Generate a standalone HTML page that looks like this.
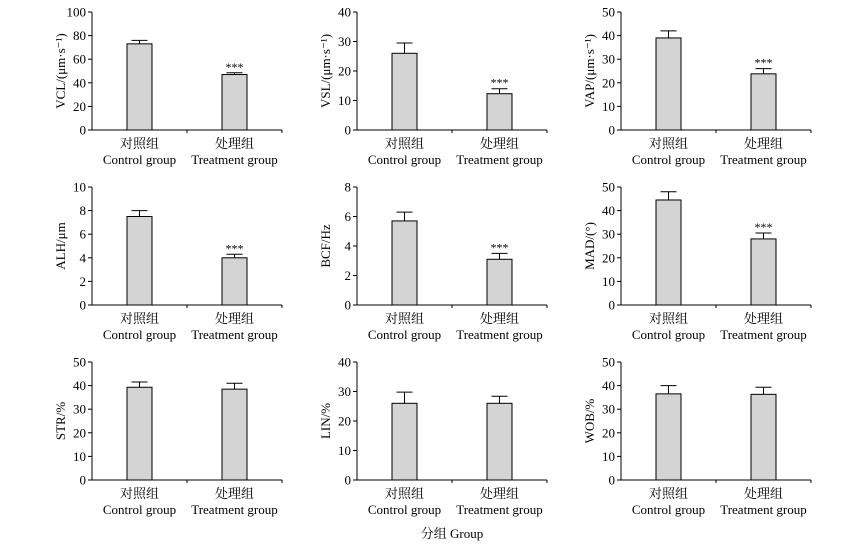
<!DOCTYPE html>
<html><head><meta charset="utf-8"><style>
body{margin:0;background:#fff;}
svg{display:block;font-family:"Liberation Serif","Noto Serif CJK SC",serif;}
</style></head><body>
<svg id="c" width="865" height="545"></svg>
<script>
const categoriesCN = ["对照组","处理组"];
const categoriesEN = ["Control group","Treatment group"];
const panelTitles = ["VCL/(μm·s⁻¹)","VSL/(μm·s⁻¹)","VAP/(μm·s⁻¹)","ALH/μm","BCF/Hz","MAD/(°)","STR/%","LIN/%","WOB/%"];
const meanValues = [[73,47],[26,12.3],[39,23.8],[7.5,4.0],[5.7,3.1],[44.5,28],[39.3,38.5],[26,26],[36.5,36.3]];
const errorValues = [[3,1.5],[3.5,1.7],[3,2.2],[0.5,0.3],[0.6,0.4],[3.5,2.5],[2.2,2.5],[3.8,2.4],[3.5,3]];
const axisMax = [100,40,50,10,8,50,50,40,50];
const tickStep = [20,10,10,2,2,10,10,10,10];
const significance = [["","***"],["","***"],["","***"],["","***"],["","***"],["","***"],["",""],["",""],["",""]];

const NS="http://www.w3.org/2000/svg";
const svg=document.getElementById('c');
function mk(tag,attrs,parent){const e=document.createElementNS(NS,tag);for(const k in attrs)e.setAttribute(k,attrs[k]);(parent||svg).appendChild(e);return e;}
const colX=[92,357,621], rowTop=[12,187,362], W=190, H=118, barW=25;
for(let p=0;p<9;p++){
  const x0=colX[p%3], y0=rowTop[Math.floor(p/3)], yb=y0+H;
  const g=mk('g',{});
  
  
  const ys=v=>yb-v/axisMax[p]*H;
  const xs=i=>x0+W*(i*2+1)/4;
  // axes
  const ax=mk('path',{d:`M${x0} ${y0}V${yb}H${x0+W}`,stroke:'#000','stroke-width':1,fill:'none'},g);
  
  
  [x0+W/2,x0+W].forEach(tx=>mk('line',{x1:tx,x2:tx,y1:yb,y2:yb+3,stroke:'#000'},g));
  for(let v=0;v<=axisMax[p]+1e-9;v+=tickStep[p]){
    const y=ys(v);
    mk('line',{x1:x0-4,x2:x0,y1:y,y2:y,stroke:'#000'},g);
    const t=mk('text',{x:x0-6,y:y+4.5,'text-anchor':'end','font-size':13},g);
    t.textContent=v;
    
    
  }
  const yt=mk('text',{transform:`translate(${x0-27},${y0+H/2}) rotate(-90)`,'text-anchor':'middle','font-size':13},g);
  yt.textContent=panelTitles[p];
  
  
  for(let i=0;i<2;i++){
    const cx=xs(i), m=meanValues[p][i], e=errorValues[p][i];
    const b=mk('rect',{x:cx-barW/2,y:ys(m),width:barW,height:yb-ys(m),fill:'#d4d4d4',stroke:'#000','stroke-width':1},g);
    
    
    const eb=mk('path',{d:`M${cx} ${ys(m)}V${ys(m+e)}M${cx-8} ${ys(m+e)}H${cx+8}`,stroke:'#000',fill:'none'},g);
    
    
    if(significance[p][i]){
      const s=mk('text',{x:cx,y:ys(m+e)-2,'text-anchor':'middle','font-size':12},g);
      s.textContent=significance[p][i];
      
      
    }
    const l1=mk('text',{x:cx,y:yb+18,'text-anchor':'middle','font-size':13},g);
    l1.textContent=categoriesCN[i];
    
    
    const l2=mk('text',{x:cx,y:yb+34,'text-anchor':'middle','font-size':13},g);
    l2.textContent=categoriesEN[i];
    
    
  }
}
const xt=mk('text',{x:452,y:538,'text-anchor':'middle','font-size':13});
xt.textContent="分组 Group";


</script>
</body></html>
